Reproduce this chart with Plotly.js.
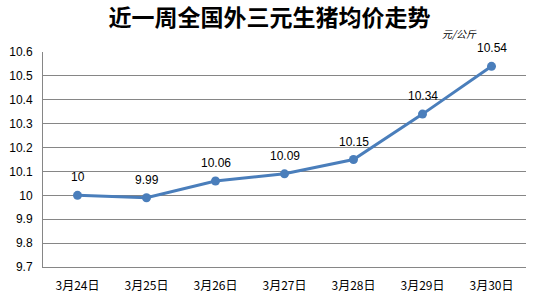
<!DOCTYPE html>
<html><head><meta charset="utf-8">
<script src="https://cdn.plot.ly/plotly-3.0.1.min.js"></script>
<style>html,body{margin:0;padding:0;background:#fff;}#c{width:536px;height:298px;}</style>
</head><body><div id="c"></div>
<script>
const categories = ["3月24日","3月25日","3月26日","3月27日","3月28日","3月29日","3月30日"];
const prices = [10, 9.99, 10.06, 10.09, 10.15, 10.34, 10.54];
const priceLabels = ["10","9.99","10.06","10.09","10.15","10.34","10.54"];
const yTicks = [9.7, 9.8, 9.9, 10, 10.1, 10.2, 10.3, 10.4, 10.5, 10.6];
const yTickText = ["9.7","9.8","9.9","10","10.1","10.2","10.3","10.4","10.5","10.6"];

const trace = {
  x: categories, y: prices, type: 'scatter', mode: 'lines+markers',
  line: {color: '#4a7ebb', width: 3},
  marker: {color: '#4a7ebb', size: 9},
  cliponaxis: false, hoverinfo: 'none'
};
const labelAnns = categories.map((c, i) => ({
  x: c, y: prices[i], xref: 'x', yref: 'y', text: priceLabels[i], showarrow: false,
  yanchor: 'middle', xanchor: 'center', yshift: 18,
  font: {family: 'Liberation Sans, Arial, sans-serif', size: 12, color: '#000'}
}));
const layout = {
  width: 536, height: 298,
  margin: {l: 43, r: 10, t: 52, b: 31},
  paper_bgcolor: '#fff', plot_bgcolor: '#fff',
  showlegend: false,
  title: {text: '近一周全国外三元生猪均价走势', x: 0.503, xanchor: 'center', y: 0.94, yanchor: 'middle',
          font: {family: 'Noto Sans CJK SC, sans-serif', size: 23, color: '#000', weight: 'bold'}},
  xaxis: {type: 'category', range: [-0.5, 6.5], autorange: false, showgrid: false, showline: true, linecolor: '#868686', linewidth: 1,
          ticks: '', ticklabelstandoff: 8,
          tickfont: {family: 'Noto Sans CJK SC, sans-serif', size: 12, color: '#000'}, fixedrange: true},
  yaxis: {range: [9.7, 10.6], autorange: false, tickvals: yTicks, ticktext: yTickText, showgrid: true, gridcolor: '#868686', gridwidth: 1,
          showline: true, linecolor: '#868686', linewidth: 1, zeroline: false, ticks: '',
          ticklabelstandoff: 7,
          tickfont: {family: 'Liberation Sans, Arial, sans-serif', size: 12, color: '#000'}, fixedrange: true},
  annotations: labelAnns.concat([{text: '元/公斤', xref: 'paper', yref: 'paper', x: 0.862, y: 1.088, xanchor: 'center', yanchor: 'middle',
                 showarrow: false, font: {family: 'Noto Sans CJK SC, sans-serif', size: 10, color: '#000', style: 'italic'}}])
};
Plotly.newPlot('c', [trace], layout, {displayModeBar: false, staticPlot: true});
</script></body></html>
